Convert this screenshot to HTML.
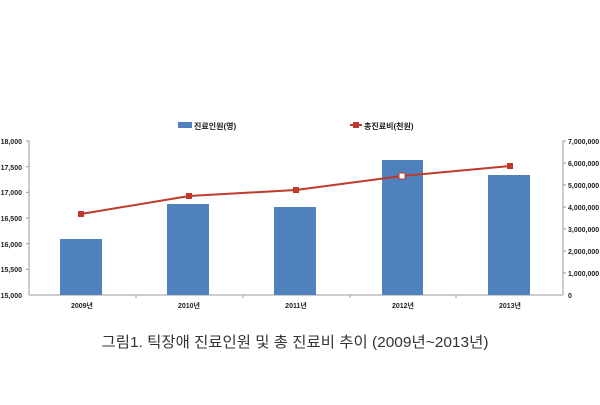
<!DOCTYPE html>
<html><head><meta charset="utf-8"><style>
body{margin:0;background:#fff;}
svg text{font-family:"Liberation Sans","Noto Sans CJK KR",sans-serif;}
</style></head><body>
<svg width="600" height="400" xmlns="http://www.w3.org/2000/svg">
<rect width="600" height="400" fill="#fff"/>
<!-- legend -->
<rect x="178" y="122" width="14" height="6" fill="#4f81bd"/>
<text x="194" y="129" font-size="8" font-weight="bold" fill="#222">진료인원(명)</text>
<line x1="350" y1="125" x2="362" y2="125" stroke="#c0392b" stroke-width="2"/>
<rect x="353" y="122" width="6" height="6" fill="#c0392b"/>
<text x="364" y="129" font-size="8" font-weight="bold" fill="#222">총진료비(천원)</text>
<!-- axes -->
<line x1="29" y1="141" x2="29" y2="295" stroke="#999" stroke-width="1"/>
<line x1="563" y1="141" x2="563" y2="295" stroke="#999" stroke-width="1"/>
<line x1="29" y1="295" x2="563" y2="295" stroke="#999" stroke-width="1"/>
<g stroke="#999">
<line x1="26" y1="141" x2="29" y2="141"/><line x1="26" y1="166.7" x2="29" y2="166.7"/><line x1="26" y1="192.3" x2="29" y2="192.3"/><line x1="26" y1="218" x2="29" y2="218"/><line x1="26" y1="243.7" x2="29" y2="243.7"/><line x1="26" y1="269.3" x2="29" y2="269.3"/>
<line x1="563" y1="141" x2="566" y2="141"/><line x1="563" y1="163" x2="566" y2="163"/><line x1="563" y1="185" x2="566" y2="185"/><line x1="563" y1="207" x2="566" y2="207"/><line x1="563" y1="229" x2="566" y2="229"/><line x1="563" y1="251" x2="566" y2="251"/><line x1="563" y1="273" x2="566" y2="273"/>
<line x1="136" y1="295" x2="136" y2="298"/><line x1="243" y1="295" x2="243" y2="298"/><line x1="350" y1="295" x2="350" y2="298"/><line x1="456" y1="295" x2="456" y2="298"/>
</g>
<g font-size="7" font-weight="bold" fill="#222" text-anchor="end">
<text x="22" y="144">18,000</text><text x="22" y="170">17,500</text><text x="22" y="195">17,000</text><text x="22" y="221">16,500</text><text x="22" y="247">16,000</text><text x="22" y="272">15,500</text><text x="22" y="298">15,000</text>
</g>
<g font-size="7" font-weight="bold" fill="#222">
<text x="568" y="144">7,000,000</text><text x="568" y="166">6,000,000</text><text x="568" y="188">5,000,000</text><text x="568" y="210">4,000,000</text><text x="568" y="232">3,000,000</text><text x="568" y="254">2,000,000</text><text x="568" y="276">1,000,000</text><text x="568" y="298">0</text>
</g>
<!-- bars -->
<g fill="#4f81bd">
<rect x="60" y="239" width="42" height="56"/>
<rect x="167" y="204" width="42" height="91"/>
<rect x="274" y="207" width="42" height="88"/>
<rect x="382" y="160" width="41" height="135"/>
<rect x="488" y="175" width="42" height="120"/>
</g>
<!-- line -->
<polyline points="81,214 189,196 296,190 402,176 510,166" fill="none" stroke="#c0392b" stroke-width="2"/>
<g fill="#c0392b">
<rect x="78" y="211" width="6" height="6"/><rect x="186" y="193" width="6" height="6"/><rect x="293" y="187" width="6" height="6"/><rect x="507" y="163" width="6" height="6"/>
</g>
<rect x="399" y="173" width="6" height="6" fill="#fff" stroke="#c0392b" stroke-width="1"/>
<g font-size="7" font-weight="bold" fill="#222" text-anchor="middle">
<text x="82" y="308">2009년</text><text x="189" y="308">2010년</text><text x="296" y="308">2011년</text><text x="403" y="308">2012년</text><text x="510" y="308">2013년</text>
</g>
<text x="295" y="347" font-size="15" fill="#333" text-anchor="middle" textLength="387" lengthAdjust="spacingAndGlyphs">그림1. 틱장애 진료인원 및 총 진료비 추이 (2009년~2013년)</text>
</svg>
</body></html>
